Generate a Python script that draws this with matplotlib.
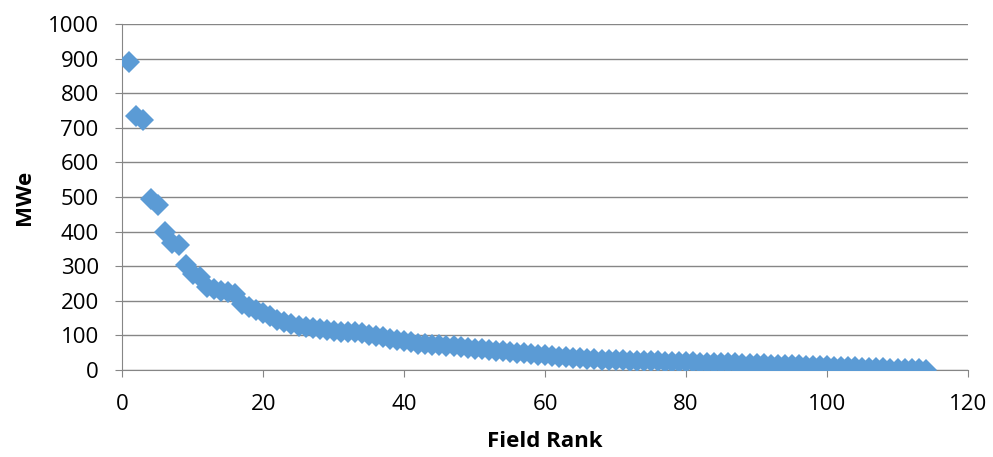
import matplotlib.pyplot as plt
import numpy as np

plt.rcParams['font.family'] = ['Open Sans', 'DejaVu Sans']

blue = (91/255, 155/255, 213/255)
grid_grey = (134/255, 134/255, 134/255)

rank = np.arange(1, 115)
mwe = [889, 734, 722, 495, 476, 399, 368, 360, 302, 278,
       268, 241, 233, 228, 226, 220, 190, 182, 172, 165,
       155, 145, 140, 134, 128, 125, 121, 118, 115, 112,
       111, 110, 110, 108, 100, 97, 94, 91, 87, 85,
       82, 76, 74, 72, 71, 70, 69, 67, 64, 62,
       60, 58, 56, 54, 52, 50, 48, 46, 44, 42,
       40, 38, 37, 35, 34, 33, 31, 30, 29, 28,
       28, 27, 26, 26, 25, 25, 24, 23, 23, 22,
       22, 21, 21, 20, 20, 19, 19, 18, 17, 17,
       16, 15, 14, 14, 13, 13, 12, 12, 11, 11,
       10, 9, 8, 8, 7, 6, 6, 5, 4, 4,
       3, 3, 2, 1]

x_ticks = np.arange(0, 121, 20)
y_ticks = np.arange(0, 1001, 100)

fig = plt.figure(figsize=(9.93, 4.57), dpi=100)
ax = fig.add_axes([0.1232, 0.1904, 0.8516, 0.7571])

ax.plot(rank, mwe, linestyle='none', marker='D', markersize=11,
        color=blue, markeredgewidth=0, zorder=3)

ax.set_xlim(0, 120)
ax.set_ylim(0, 1000)
ax.set_xticks(x_ticks)
ax.set_yticks(y_ticks)
ax.grid(axis='y', color=grid_grey, linewidth=1)
ax.set_axisbelow(True)

for side in ['top', 'right']:
    ax.spines[side].set_visible(False)
for side in ['left', 'bottom']:
    ax.spines[side].set_color(grid_grey)
ax.tick_params(axis='both', colors=grid_grey, length=5, labelsize=16,
               labelcolor='black')
ax.tick_params(axis='x', pad=12)
ax.tick_params(axis='y', pad=12)

ax.set_xlabel('Field Rank', fontsize=16, fontweight='bold', labelpad=12)
ax.set_ylabel('MWe', fontsize=16, fontweight='bold', labelpad=9)

fig.savefig('out.png', dpi=100)
